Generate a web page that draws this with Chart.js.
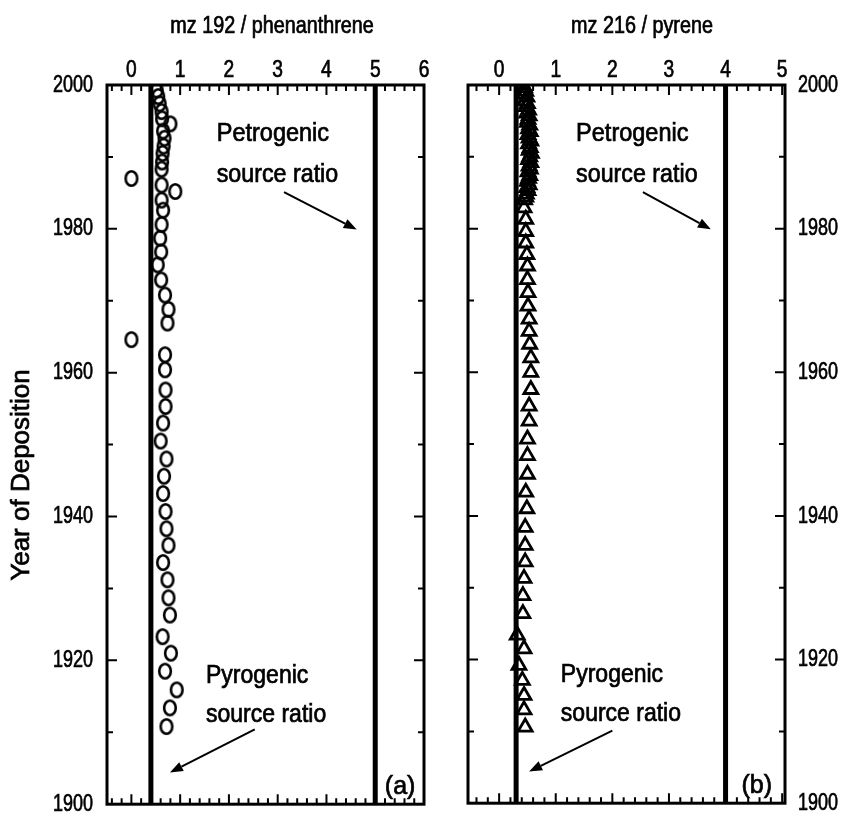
<!DOCTYPE html>
<html>
<head>
<meta charset="utf-8">
<script src="https://cdn.jsdelivr.net/npm/chart.js@4.4.1/dist/chart.umd.min.js"></script>
<style>
	body { margin: 0; background: #fff; }
	#wrap { position: relative; width: 843px; height: 814px; }
	#canvasPhen { position: absolute; left: 0; top: 0; }
	#canvasPyr { position: absolute; left: 440px; top: 0; }
</style>
</head>
<body>
<div id="wrap">
	<canvas id="canvasPhen" width="440" height="814"></canvas>
	<canvas id="canvasPyr" width="403" height="814"></canvas>
</div>
<script>
/***********************************************************************************************
 * data
 ***********************************************************************************************/
// (a) mz 192 / phenanthrene
var phenYears = [1999.3, 1998.4, 1997.4, 1996.3, 1995.3, 1994.6, 1993.6, 1992.6, 1991.5, 1990.5,
	1989.3, 1988.3, 1987.0, 1986.1, 1985.2, 1984.0, 1982.6, 1980.6, 1978.7, 1976.8,
	1975.0, 1972.9, 1970.8, 1968.8, 1966.9, 1964.6, 1962.5, 1960.4, 1957.6, 1955.3,
	1953.0, 1950.5, 1948.0, 1945.6, 1943.2, 1940.7, 1938.3, 1936.0, 1933.6, 1931.2,
	1928.7, 1926.3, 1923.3, 1921.0, 1918.5, 1915.9, 1913.4, 1910.8];
var phenRatios = [0.52, 0.55, 0.58, 0.62, 0.63, 0.80, 0.65, 0.68, 0.66, 0.64,
	0.63, 0.62, 0.00, 0.62, 0.90, 0.62, 0.65, 0.62, 0.59, 0.61,
	0.54, 0.61, 0.69, 0.76, 0.74, 0.00, 0.69, 0.69, 0.70, 0.70,
	0.65, 0.60, 0.72, 0.67, 0.65, 0.70, 0.72, 0.76, 0.65, 0.74,
	0.76, 0.79, 0.64, 0.81, 0.69, 0.93, 0.79, 0.72];

// (b) mz 216 / pyrene
var pyrYears = [2000.0, 1999.6, 1999.1, 1998.7, 1998.3, 1997.8, 1997.4, 1997.0, 1996.5, 1996.1,
	1995.7, 1995.2, 1994.8, 1994.4, 1993.9, 1993.5, 1993.1, 1992.6, 1992.2, 1991.8,
	1991.3, 1990.9, 1990.5, 1990.0, 1989.6, 1989.2, 1988.7, 1988.3, 1987.9, 1987.4,
	1987.0, 1986.6, 1986.1, 1985.7, 1985.3, 1984.8, 1984.4, 1984.0,
	1982.9, 1981.3, 1979.6, 1978.0, 1976.4, 1974.8, 1972.9, 1971.1, 1969.2, 1967.4,
	1965.7, 1963.9, 1962.0, 1960.0, 1957.6, 1955.3, 1953.2, 1950.7, 1948.4, 1945.8,
	1943.3, 1941.0, 1938.4, 1935.9, 1933.6, 1931.3, 1928.9, 1926.4, 1923.4, 1921.5,
	1919.2, 1917.1, 1915.0, 1913.0, 1910.6];
var pyrRatios = [0.42, 0.45, 0.47, 0.44, 0.49, 0.46, 0.50, 0.48, 0.52, 0.49,
	0.53, 0.51, 0.50, 0.54, 0.52, 0.55, 0.51, 0.53, 0.56, 0.52,
	0.55, 0.53, 0.57, 0.54, 0.52, 0.56, 0.53, 0.55, 0.51, 0.54,
	0.52, 0.50, 0.53, 0.49, 0.51, 0.48, 0.47, 0.45,
	0.44, 0.47, 0.47, 0.47, 0.49, 0.50, 0.50, 0.51, 0.51, 0.53,
	0.53, 0.54, 0.56, 0.56, 0.56, 0.53, 0.53, 0.50, 0.50, 0.50,
	0.47, 0.49, 0.46, 0.46, 0.46, 0.44, 0.42, 0.42, 0.32, 0.44,
	0.35, 0.41, 0.44, 0.44, 0.46];

// source ratios (vertical reference lines)
var phenSourceRatios = { pyrogenic: 0.4, petrogenic: 5 };
var pyrSourceRatios = { pyrogenic: 0.3, petrogenic: 4 };

var yearMin = 1900;
var yearMax = 2000;
var yearStep = 20;

var FONT = "'Liberation Sans', Arial, sans-serif";

/***********************************************************************************************
 * helpers
 ***********************************************************************************************/
function toPoints(xs, ys) {
	var list = [];
	for (var i = 0; i < xs.length; i++) {
		list.push({ x: xs[i], y: ys[i] });
	}
	return list;
}

function verticalLine(value) {
	return [{ x: value, y: yearMin }, { x: value, y: yearMax }];
}

// open ellipse marker, slightly taller than wide
function makeRing() {
	var c = document.createElement('canvas');
	c.width = 18;
	c.height = 21;
	var g = c.getContext('2d');
	g.strokeStyle = '#000';
	g.lineWidth = 2.6;
	g.beginPath();
	g.ellipse(9, 10.5, 5.8, 7.2, 0, 0, Math.PI * 2);
	g.stroke();
	return c;
}

// condensed text: horizontally squeezed, lightly stroked so it prints dark
function narrowText(ctx, text, x, y, size, sx, align, baseline) {
	ctx.save();
	ctx.translate(x, y);
	ctx.scale(sx, 1);
	ctx.font = size + 'px ' + FONT;
	ctx.textAlign = align;
	ctx.textBaseline = baseline;
	ctx.fillStyle = '#000';
	ctx.strokeStyle = '#000';
	ctx.lineWidth = 0.7;
	ctx.fillText(text, 0, 0);
	ctx.strokeText(text, 0, 0);
	ctx.restore();
}

function drawArrow(ctx, x0, y0, x1, y1) {
	var ang = Math.atan2(y1 - y0, x1 - x0);
	var len = 13, half = 5;
	var bx = x1 - Math.cos(ang) * len;
	var by = y1 - Math.sin(ang) * len;
	ctx.lineWidth = 2;
	ctx.beginPath();
	ctx.moveTo(x0, y0);
	ctx.lineTo(bx, by);
	ctx.stroke();
	ctx.beginPath();
	ctx.moveTo(x1, y1);
	ctx.lineTo(bx + Math.sin(ang) * half, by - Math.cos(ang) * half);
	ctx.lineTo(bx - Math.sin(ang) * half, by + Math.cos(ang) * half);
	ctx.closePath();
	ctx.fill();
}

/***********************************************************************************************
 * plugins - box frame with inward ticks, tick labels, text notes
 ***********************************************************************************************/
var frameTicks = {
	id: 'frameTicks',
	afterDatasetsDraw: function(chart, args, opts) {
		var ctx = chart.ctx;
		var a = chart.chartArea;
		var xs = chart.scales.x;
		var ys = chart.scales.y;
		ctx.save();
		ctx.strokeStyle = '#000';
		ctx.lineWidth = 2;
		ctx.beginPath();
		for (var k = Math.ceil(xs.min * 5); k <= Math.floor(xs.max * 5); k++) {
			var px = xs.getPixelForValue(k / 5);
			var len = (k % 5 === 0) ? 10 : 6;
			ctx.moveTo(px, a.top);
			ctx.lineTo(px, a.top + len);
			ctx.moveTo(px, a.bottom);
			ctx.lineTo(px, a.bottom - len);
		}
		for (var yr = yearMin + 10; yr < yearMax; yr += 10) {
			var py = ys.getPixelForValue(yr);
			var l = (yr % 20 === 0) ? 10 : 6;
			ctx.moveTo(a.left, py);
			ctx.lineTo(a.left + l, py);
			ctx.moveTo(a.right, py);
			ctx.lineTo(a.right - l, py);
		}
		ctx.stroke();
		ctx.lineWidth = 3;
		ctx.strokeRect(a.left, a.top, a.right - a.left, a.bottom - a.top);
		ctx.restore();

		// tick labels from the scales' own ticks
		xs.ticks.forEach(function(t) {
			narrowText(ctx, String(t.value), xs.getPixelForValue(t.value), a.top - 8, 24, 0.8, 'center', 'alphabetic');
		});
		ys.ticks.forEach(function(t) {
			var left = opts.side === 'left';
			narrowText(ctx, String(t.value), left ? a.left - 14 : a.right + 13,
				ys.getPixelForValue(t.value), 24, 0.75, left ? 'right' : 'left', 'middle');
		});
	}
};

var notes = {
	id: 'notes',
	afterDraw: function(chart, args, opts) {
		var ctx = chart.ctx;
		var xs = chart.scales.x;
		var ys = chart.scales.y;
		(opts.labels || []).forEach(function(t) {
			narrowText(ctx, t.text, xs.getPixelForValue(t.x), ys.getPixelForValue(t.y),
				t.size, t.sx, t.align || 'left', 'alphabetic');
		});
		ctx.save();
		ctx.fillStyle = '#000';
		ctx.strokeStyle = '#000';
		(opts.arrows || []).forEach(function(r) {
			drawArrow(ctx, xs.getPixelForValue(r[0]), ys.getPixelForValue(r[1]),
				xs.getPixelForValue(r[2]), ys.getPixelForValue(r[3]));
		});
		ctx.restore();
		// axis titles in canvas pixels
		(opts.titles || []).forEach(function(t) {
			ctx.save();
			ctx.translate(t.px, t.py);
			if (t.rotate) ctx.rotate(-Math.PI / 2);
			narrowText(ctx, t.text, 0, 0, t.size, t.sx, 'center', 'middle');
			ctx.restore();
		});
	}
};

/***********************************************************************************************
 * chart builder
 ***********************************************************************************************/
function buildPanel(canvasId, cfg) {
	return new Chart(document.getElementById(canvasId), {
		type: 'scatter',
		data: {
			datasets: [{
				data: verticalLine(cfg.ratios.pyrogenic),
				showLine: true,
				borderColor: '#000',
				borderWidth: 5,
				pointRadius: 0
			}, {
				data: verticalLine(cfg.ratios.petrogenic),
				showLine: true,
				borderColor: '#000',
				borderWidth: 5,
				pointRadius: 0
			}, {
				data: toPoints(cfg.values, cfg.years),
				pointStyle: cfg.marker,
				pointRadius: cfg.markerSize,
				borderColor: '#000',
				borderWidth: 2.8,
				backgroundColor: 'rgba(0,0,0,0)'
			}]
		},
		options: {
			responsive: false,
			animation: false,
			events: [],
			layout: { padding: cfg.padding },
			plugins: {
				legend: { display: false },
				tooltip: { enabled: false },
				frameTicks: { side: cfg.yPosition },
				notes: cfg.notes
			},
			scales: {
				x: {
					type: 'linear',
					position: 'top',
					min: cfg.xMin,
					max: cfg.xMax,
					grid: { display: false },
					border: { display: false },
					ticks: { stepSize: 1, includeBounds: false, display: false },
					afterFit: function(scale) { scale.height = 85; }
				},
				y: {
					type: 'linear',
					position: cfg.yPosition,
					min: yearMin,
					max: yearMax,
					grid: { display: false },
					border: { display: false },
					ticks: { stepSize: yearStep, display: false },
					afterFit: function(scale) { scale.width = cfg.yWidth; }
				}
			}
		},
		plugins: [frameTicks, notes]
	});
}

buildPanel('canvasPhen', {
	values: phenRatios,
	years: phenYears,
	ratios: phenSourceRatios,
	marker: makeRing(),
	markerSize: 7,
	xMin: -0.5,
	xMax: 6,
	yPosition: 'left',
	yWidth: 107,
	padding: { top: 0, right: 16, bottom: 9, left: 0 },
	notes: {
		labels: [
			{ text: 'Petrogenic', x: 1.75, y: 1992.2, size: 25, sx: 0.94 },
			{ text: 'source ratio', x: 1.75, y: 1986.5, size: 25, sx: 0.93 },
			{ text: 'Pyrogenic', x: 1.53, y: 1916.9, size: 25, sx: 0.92 },
			{ text: 'source ratio', x: 1.53, y: 1911.4, size: 25, sx: 0.92 },
			{ text: '(a)', x: 5.51, y: 1901.4, size: 25, sx: 1, align: 'center' }
		],
		arrows: [
			[3.13, 1985.1, 4.62, 1979.9],
			[2.53, 1910.4, 0.79, 1904.4]
		],
		titles: [
			{ text: 'mz 192 / phenanthrene', px: 272, py: 27, size: 23, sx: 0.86 },
			{ text: 'Year of Deposition', px: 22, py: 475, size: 26, sx: 1 , rotate: true }
		]
	}
});

buildPanel('canvasPyr', {
	values: pyrRatios,
	years: pyrYears,
	ratios: pyrSourceRatios,
	marker: 'triangle',
	markerSize: 8,
	xMin: -0.55,
	xMax: 5.05,
	yPosition: 'right',
	yWidth: 58,
	padding: { top: 0, right: 0, bottom: 9, left: 28 },
	notes: {
		labels: [
			{ text: 'Petrogenic', x: 1.36, y: 1992.2, size: 25, sx: 0.94 },
			{ text: 'source ratio', x: 1.36, y: 1986.5, size: 25, sx: 0.93 },
			{ text: 'Pyrogenic', x: 1.09, y: 1916.9, size: 25, sx: 0.92 },
			{ text: 'source ratio', x: 1.09, y: 1911.4, size: 25, sx: 0.92 },
			{ text: '(b)', x: 4.55, y: 1901.4, size: 25, sx: 1, align: 'center' }
		],
		arrows: [
			[2.54, 1985.1, 3.74, 1979.9],
			[2.0, 1910.1, 0.53, 1904.4]
		],
		titles: [
			{ text: 'mz 216 / pyrene', px: 202, py: 27, size: 23, sx: 0.86 }
		]
	}
});
</script>
</body>
</html>
